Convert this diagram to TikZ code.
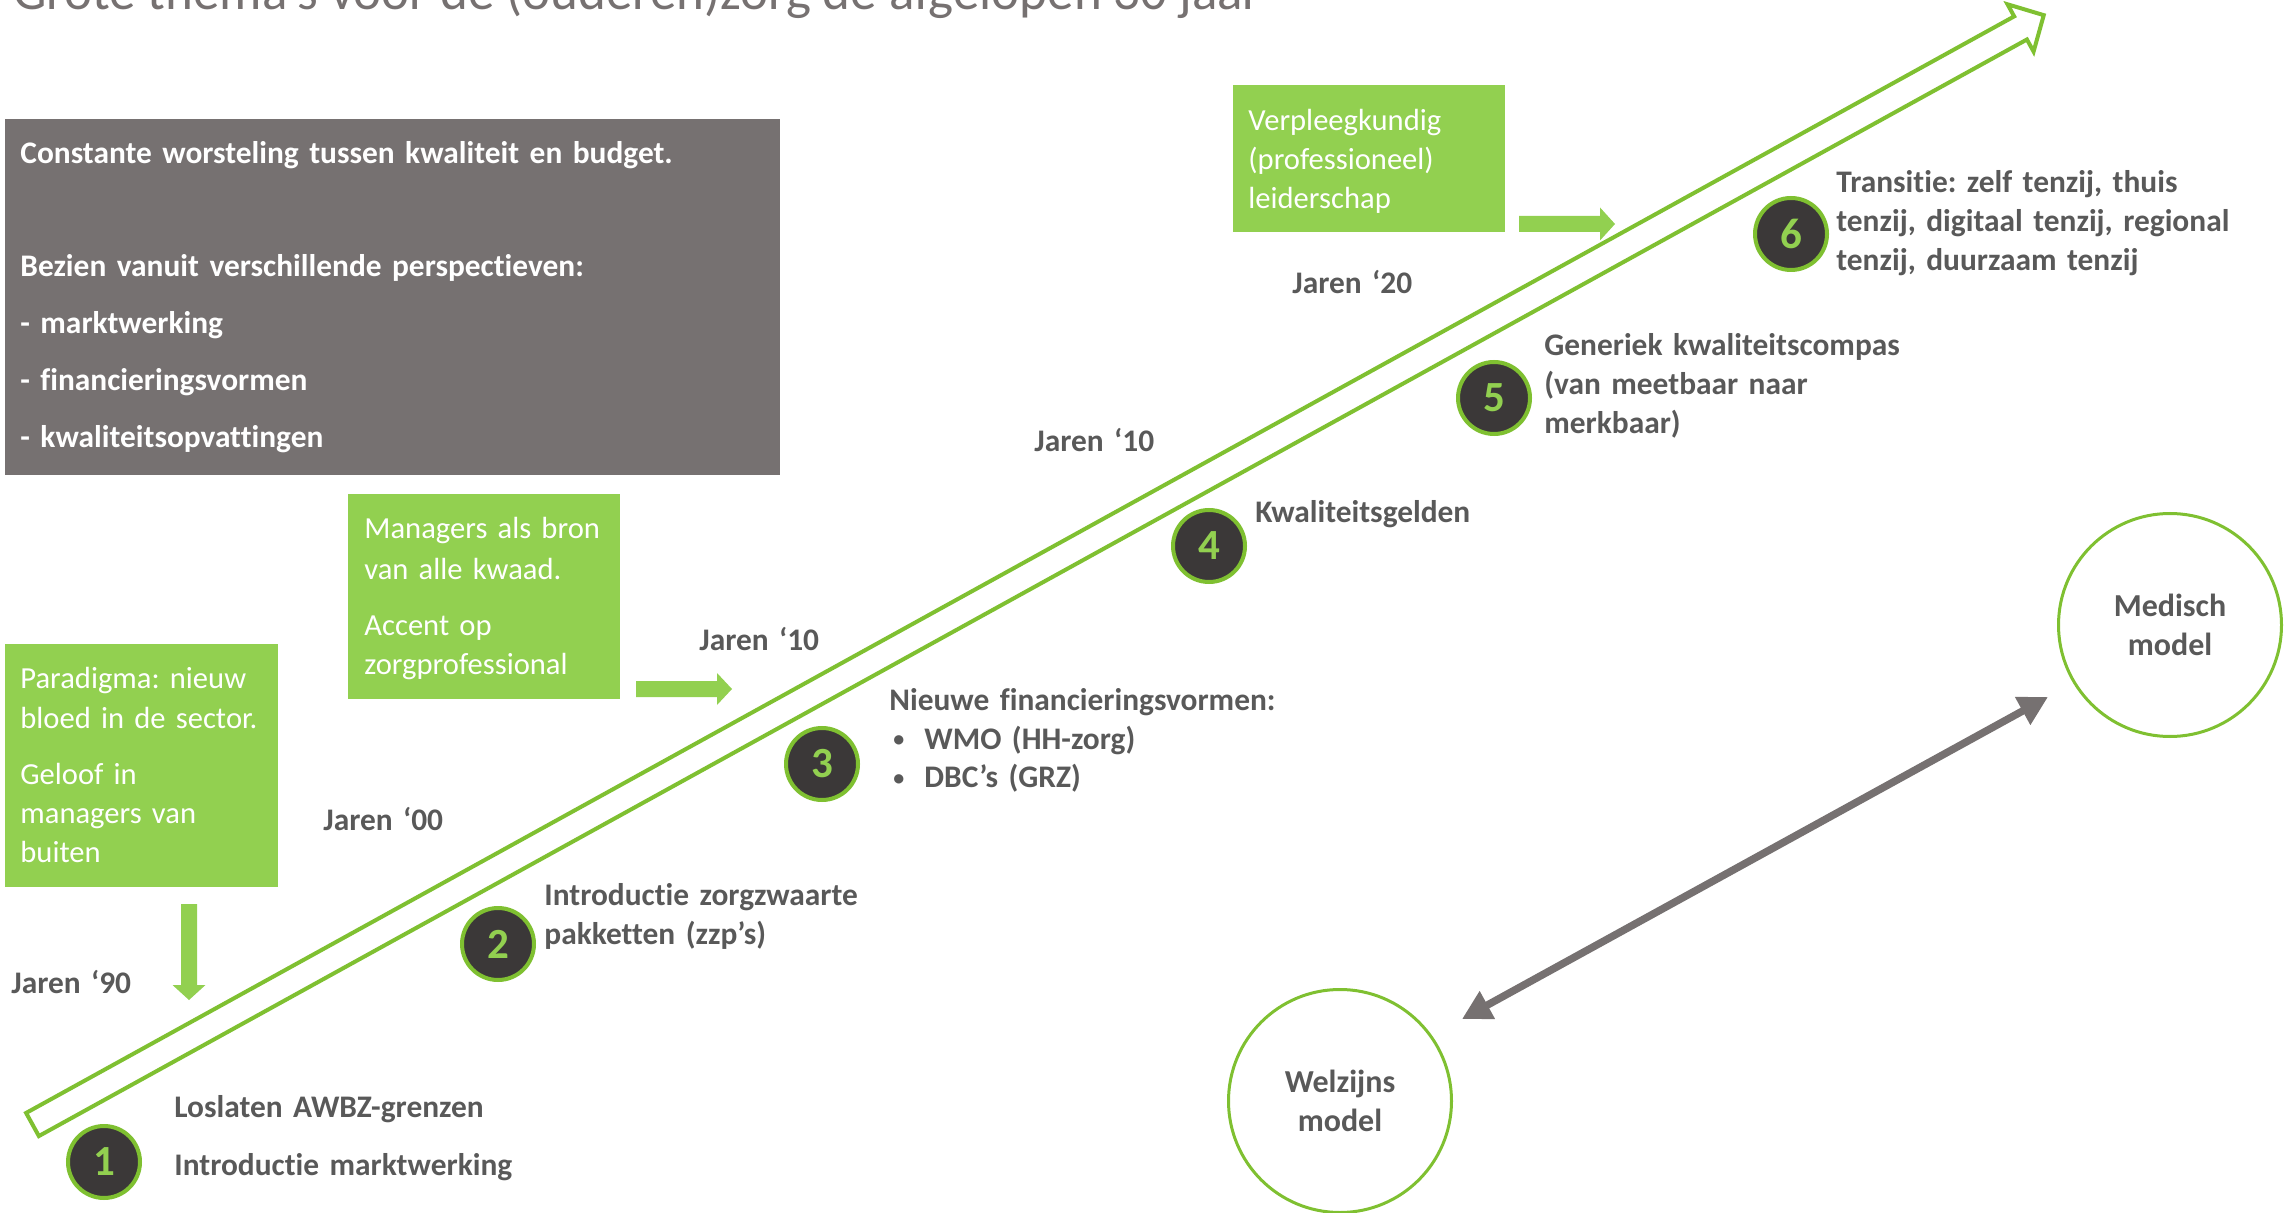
\documentclass[tikz,border=0pt]{standalone}
\usepackage{fontspec}
\setmainfont{Carlito}[Ligatures=NoCommon]
\usetikzlibrary{arrows.meta}
\definecolor{boxgreen}{HTML}{92D050}
\definecolor{linegreen}{HTML}{7FC031}
\definecolor{boxgray}{HTML}{767171}
\definecolor{txtgray}{HTML}{595959}
\definecolor{circfill}{HTML}{3B3838}
\newcommand{\smallbullet}{\hspace*{2pt}\makebox[15.5pt][l]{\raisebox{1.2pt}{\fontsize{11}{11}\selectfont •}}}
\begin{document}
\frenchspacing
\begin{tikzpicture}[x=0.5pt,y=-0.5pt,
  greenbox/.style={fill=boxgreen, draw=none, anchor=north west, inner sep=0},
  graybox/.style={fill=boxgray, draw=none, anchor=north west, inner sep=0},
  boxtext/.style={anchor=base west, inner sep=0, align=left, text width=200pt, text=white, font=\fontsize{15.3}{19.5}\selectfont},
  graytext/.style={anchor=base west, inner sep=0, align=left, text width=370pt, text=white, font=\fontsize{15.7}{19.5}\selectfont\bfseries},
  itemtext/.style={anchor=base west, inner sep=0, align=left, text width=220pt, text=txtgray, font=\fontsize{15.7}{19.5}\selectfont\bfseries},
  numcirc/.style={circle, fill=circfill, draw=linegreen, line width=2pt, minimum size=36pt, inner sep=0, text=boxgreen, font=\fontsize{21.5}{24}\selectfont\bfseries},
  modelcirc/.style={circle, draw=linegreen, line width=1.5pt, minimum size=111.5pt, inner sep=0, align=center, text=txtgray, font=\fontsize{16}{19.5}\selectfont\bfseries},
  blockarrow/.style={fill=boxgreen},
  bigarrow/.style={draw=linegreen, line width=2pt, line join=miter},
  duoarrow/.style={draw=boxgray, line width=3.75pt, {Triangle[length=14.5pt,width=15pt]}-{Triangle[length=14.5pt,width=15pt]}},
]
\useasboundingbox (0,0) rectangle (2286,1213);

% title (cut off at top)
\node[anchor=base west, inner sep=0, text=boxgray, font=\fontsize{26.5}{30}\selectfont] (title) at (13,10) {Grote thema’s voor de (ouderen)zorg de afgelopen 30 jaar};

% big outlined timeline arrow
\begin{scope}[shift={(32.5,1124.5)}, rotate=28.88]
\draw[bigarrow] (0,-13.2) -- (2270.5,-13.2) -- (2270.5,-27) -- (2297,0) -- (2270.5,27) -- (2270.5,13.2) -- (0,13.2) -- cycle;
\end{scope}

% gray box
\node[graybox, minimum width=387.5pt, minimum height=178pt] (gbox) at (5,119) {};
\node[graytext] (gtext) at (20,164) {Constante worsteling tussen kwaliteit en budget.\\[37pt]
Bezien vanuit verschillende perspectieven:\\[9pt]
- marktwerking\\[9pt]
- financieringsvormen\\[9pt]
- kwaliteitsopvattingen};

% green boxes
\node[greenbox, minimum width=136.5pt, minimum height=121.5pt] (box1) at (5,644) {};
\node[boxtext] (box1text) at (20,688) {Paradigma: nieuw\\[1pt]
bloed in de sector.\\[8pt]
Geloof in\\
managers van\\
buiten};

\node[greenbox, minimum width=136pt, minimum height=102.5pt] (box2) at (348,494) {};
\node[boxtext] (box2text) at (364,539) {Managers als bron\\[1pt]
van alle kwaad.\\[8.5pt]
Accent op\\
zorgprofessional};

\node[greenbox, minimum width=136pt, minimum height=73.5pt] (box3) at (1233,85) {};
\node[boxtext] (box3text) at (1248,131) {Verpleegkundig\\
(professioneel)\\
leiderschap};

% green block arrows
\fill[blockarrow] (636,681) -- (717,681) -- (717,673) -- (732,689) -- (717,705) -- (717,697) -- (636,697) -- cycle;
\fill[blockarrow] (1519,216) -- (1600,216) -- (1600,207.5) -- (1615,224) -- (1600,240.5) -- (1600,232) -- (1519,232) -- cycle;
\fill[blockarrow] (181,904) -- (181,985) -- (172.5,985) -- (189,1000) -- (205.5,985) -- (197,985) -- (197,904) -- cycle;

% decade labels
\node[itemtext] (j90) at (11,993) {Jaren ‘90};
\node[itemtext] (j00) at (323,830) {Jaren ‘00};
\node[itemtext] (j10a) at (699,650) {Jaren ‘10};
\node[itemtext] (j10b) at (1034,452) {Jaren ‘10};
\node[itemtext] (j20) at (1292,294) {Jaren ‘20};

% numbered circles
\node[numcirc] (n1) at (104,1162) {1};
\node[numcirc] (n2) at (498,944) {2};
\node[numcirc] (n3) at (822,764) {3};
\node[numcirc] (n4) at (1209,546) {4};
\node[numcirc] (n5) at (1494,398) {5};
\node[numcirc] (n6) at (1791,234) {6};

% item texts
\node[itemtext] (t1) at (174,1117) {Loslaten AWBZ-grenzen\\[9.5pt]
Introductie marktwerking};
\node[itemtext] (t2) at (544,905) {Introductie zorgzwaarte\\
pakketten (zzp’s)};
\node[itemtext] (t3) at (889,710) {Nieuwe financieringsvormen:\\
\smallbullet WMO (HH-zorg)\\
\smallbullet DBC’s (GRZ)};
\node[itemtext] (t4) at (1255,523) {Kwaliteitsgelden};
\node[itemtext] (t5) at (1544,356) {Generiek kwaliteitscompas\\
(van meetbaar naar\\
merkbaar)};
\node[itemtext] (t6) at (1836,193) {Transitie: zelf tenzij, thuis\\
tenzij, digitaal tenzij, regional\\
tenzij, duurzaam tenzij};

% model circles
\node[modelcirc] (med) at (2170,625) {Medisch\\model};
\node[modelcirc] (welz) at (1340,1101) {Welzijns\\model};

% double arrow between models
\coordinate (dA) at (1462,1019);
\coordinate (dB) at (2048,697);
\draw[duoarrow] (dA) -- (dB);
\end{tikzpicture}
\end{document}
